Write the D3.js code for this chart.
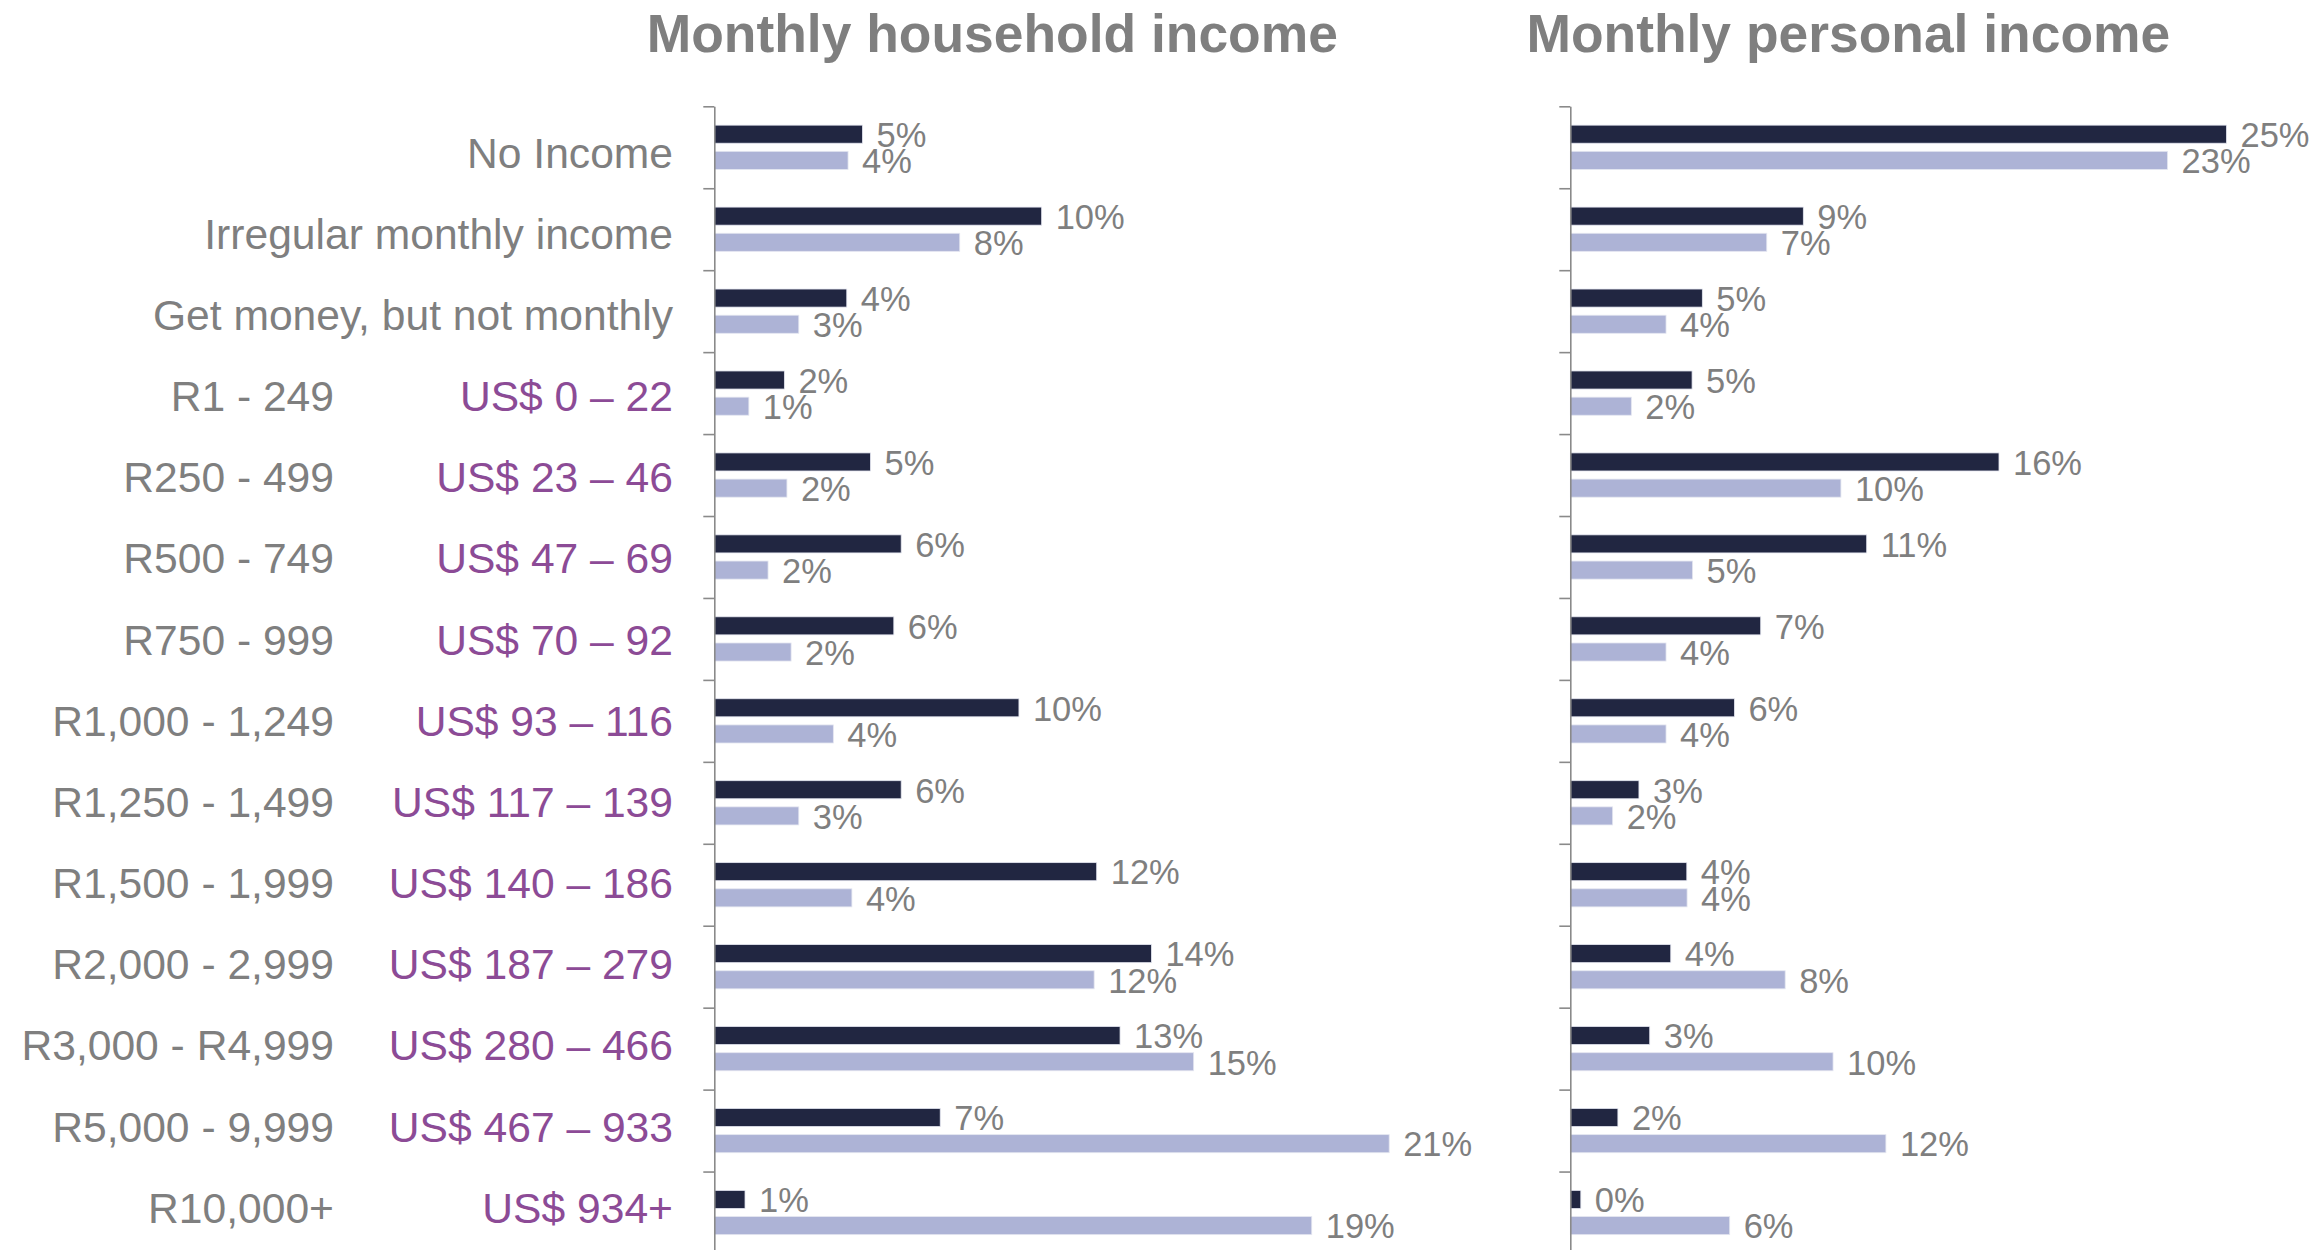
<!DOCTYPE html>
<html>
<head>
<meta charset="utf-8">
<script src="https://cdn.jsdelivr.net/npm/d3@7"></script>
<style>
  html, body { margin: 0; padding: 0; background: #fff; }
  text { font-family: "Liberation Sans", Arial, sans-serif; }
</style>
</head>
<body>
<svg id="chart" width="2316" height="1250"></svg>
<script>
// categories (rand bands) and their US$ equivalents
const CATEGORIES = ['No Income', 'Irregular monthly income', 'Get money, but not monthly',
  'R1 - 249', 'R250 - 499', 'R500 - 749', 'R750 - 999', 'R1,000 - 1,249', 'R1,250 - 1,499',
  'R1,500 - 1,999', 'R2,000 - 2,999', 'R3,000 - R4,999', 'R5,000 - 9,999', 'R10,000+'];
const USD_LABELS = ['', '', '', 'US$ 0 – 22', 'US$ 23 – 46', 'US$ 47 – 69', 'US$ 70 – 92',
  'US$ 93 – 116', 'US$ 117 – 139', 'US$ 140 – 186', 'US$ 187 – 279', 'US$ 280 – 466',
  'US$ 467 – 933', 'US$ 934+'];

const SERIES = ['groupA', 'groupB'];

// household income, %
const HOUSEHOLD_A = [4.63, 10.23, 4.14, 2.19, 4.88, 5.84, 5.61, 9.52, 5.84, 11.95, 13.66, 12.68, 7.06, 0.96];
const HOUSEHOLD_B = [4.18, 7.67, 2.64, 1.08, 2.27, 1.68, 2.40, 3.72, 2.64, 4.30, 11.87, 14.98, 21.09, 18.67];

// personal income, %
const PERSONAL_A = [24.95, 8.86, 5.02, 4.63, 16.30, 11.27, 7.24, 6.24, 2.61, 4.43, 3.82, 3.02, 1.81, 0.40];
const PERSONAL_B = [22.71, 7.47, 3.64, 2.32, 10.29, 4.65, 3.64, 3.64, 1.61, 4.44, 8.17, 9.99, 12.00, 6.06];

const TITLES = ['Monthly household income', 'Monthly personal income'];

const COLORS = { groupA: '#212641', groupB: '#adb3d6' };
const GRAY = '#7f7f7f';
const PURPLE = '#8c4b96';

const svg = d3.select('#chart');
svg.append('rect').attr('width', 2316).attr('height', 1250).attr('fill', '#fff');

const TOP = 106.3;
const BOTTOM = 1253.5;

const y = d3.scaleBand().domain(CATEGORIES).range([TOP, BOTTOM]);
const sub = d3.scaleBand().domain(SERIES).range([0, y.bandwidth()])
  .paddingInner(0.31).paddingOuter(0.72);
// category tick boundaries
const yIdx = d3.scaleLinear().domain([0, CATEGORIES.length]).range([TOP, BOTTOM]);
// the text labels sit on a slightly tighter spacing than the bars
const yLabel = d3.scalePoint().domain(CATEGORIES).range([167.7, 1222.7]);

// category labels
const labels = svg.append('g').classed('labels', true);
labels.selectAll('text.cat').data(CATEGORIES)
  .enter().append('text').classed('cat', true)
  .attr('x', (d, i) => USD_LABELS[i] ? 334 : 673)
  .attr('y', d => yLabel(d))
  .attr('text-anchor', 'end')
  .attr('font-size', 42.6)
  .attr('fill', GRAY)
  .text(d => d);

labels.selectAll('text.usd').data(CATEGORIES.filter((d, i) => USD_LABELS[i]))
  .enter().append('text').classed('usd', true)
  .attr('x', 673)
  .attr('y', d => yLabel(d))
  .attr('text-anchor', 'end')
  .attr('font-size', 42.6)
  .attr('fill', PURPLE)
  .text(d => USD_LABELS[CATEGORIES.indexOf(d)]);

const panels = [
  { title: TITLES[0], a: HOUSEHOLD_A, b: HOUSEHOLD_B, left: 714.3, max: 25, width: 800 },
  { title: TITLES[1], a: PERSONAL_A, b: PERSONAL_B, left: 1570.3, max: 30, width: 789 }
];

panels.forEach(p => {
  const x = d3.scaleLinear().domain([0, p.max]).range([0, p.width]);
  const g = svg.append('g').attr('transform', `translate(${p.left},0)`);

  g.append('text')
    .attr('x', 278)
    .attr('y', 51.7)
    .attr('text-anchor', 'middle')
    .attr('font-size', 53.4)
    .attr('font-weight', 'bold')
    .attr('fill', GRAY)
    .text(p.title);

  const rows = CATEGORIES.map((c, i) => [
    { cat: c, key: 'groupA', v: p.a[i] },
    { cat: c, key: 'groupB', v: p.b[i] }
  ]).flat();

  g.append('g').classed('bars', true)
    .selectAll('rect').data(rows)
    .enter().append('rect')
    .attr('x', x(0))
    .attr('y', d => y(d.cat) + sub(d.key))
    .attr('width', d => x(d.v) - x(0))
    .attr('height', sub.bandwidth())
    .attr('fill', d => COLORS[d.key])
    .attr('stroke', '#e4e6f0')
    .attr('stroke-width', 0.8);

  g.append('g').classed('values', true)
    .selectAll('text').data(rows)
    .enter().append('text')
    .attr('x', d => x(d.v) + 14)
    .attr('y', d => y(d.cat) + sub(d.key) + sub.bandwidth() / 2 + 12.8)
    .attr('font-size', 34.5)
    .attr('fill', GRAY)
    .text(d => Math.round(d.v) + '%');

  const axis = d3.axisLeft(yIdx)
    .tickValues(d3.range(CATEGORIES.length + 1))
    .tickSize(11)
    .tickSizeOuter(0)
    .tickFormat('');
  const ag = g.append('g').call(axis);
  ag.selectAll('path, line').attr('stroke', '#8a8a8a').attr('stroke-width', 1.6);
});
</script>
</body>
</html>
